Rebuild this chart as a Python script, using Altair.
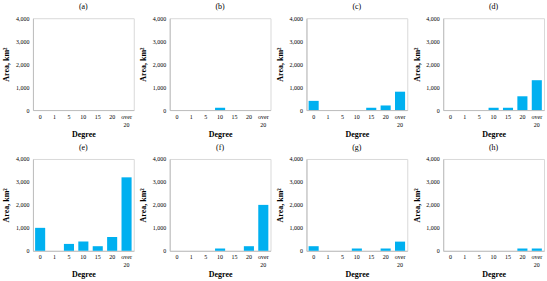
import altair as alt
import pandas as pd

degrees = ["0", "1", "5", "10", "15", "20", "over 20"]
panels = ["(a)", "(b)", "(c)", "(d)", "(e)", "(f)", "(g)", "(h)"]
area_a = [0, 0, 0, 0, 0, 0, 0]
area_b = [0, 0, 0, 100, 0, 0, 0]
area_c = [400, 0, 0, 0, 100, 200, 800]
area_d = [0, 0, 0, 100, 100, 600, 1300]
area_e = [1000, 0, 300, 400, 200, 600, 3200]
area_f = [0, 0, 0, 100, 0, 200, 2000]
area_g = [200, 0, 0, 100, 0, 100, 400]
area_h = [0, 0, 0, 0, 0, 100, 100]
all_areas = [area_a, area_b, area_c, area_d, area_e, area_f, area_g, area_h]

FONT = "Liberation Serif"
charts = []
for name, vals in zip(panels, all_areas):
    df = pd.DataFrame({"Degree": degrees, "Area": vals})
    c = alt.Chart(df, title=alt.TitleParams(name, fontSize=8, font=FONT, fontWeight="normal", offset=4)).mark_bar(color="#00B0F0").encode(
        x=alt.X("Degree:N", sort=degrees, scale=alt.Scale(paddingInner=0.3, paddingOuter=0.15),
                axis=alt.Axis(title="Degree", labelAngle=0, ticks=False, labelFontSize=6, labelFont=FONT,
                              labelPadding=3, titleFont=FONT, titleFontSize=8, titleFontWeight="bold",
                              titlePadding=3, domainColor="#bfbfbf",
                              labelExpr="datum.label == 'over 20' ? ['over', '20'] : datum.label")),
        y=alt.Y("Area:Q", scale=alt.Scale(domain=[0, 4000]),
                axis=alt.Axis(title="Area, km²", values=[0, 1000, 2000, 3000, 4000], format=",.0f", ticks=False,
                              grid=False, labelFontSize=6, labelFont=FONT, labelPadding=4, titleFont=FONT,
                              titleFontSize=8, titleFontWeight="bold", titlePadding=4, domainColor="#bfbfbf",
                              minExtent=18, maxExtent=18)),
    ).properties(width=101, height=92)
    charts.append(c)

chart = alt.concat(*charts, columns=4, spacing=4).properties(
    padding={"left": 2, "top": 2, "right": 2, "bottom": 2}
).configure_view(stroke="#d9d9d9").configure_axis(labelColor="#000000", titleColor="#000000").configure_title(color="#000000")

chart.save("out.html", embed_options={"renderer": "svg", "actions": False})
